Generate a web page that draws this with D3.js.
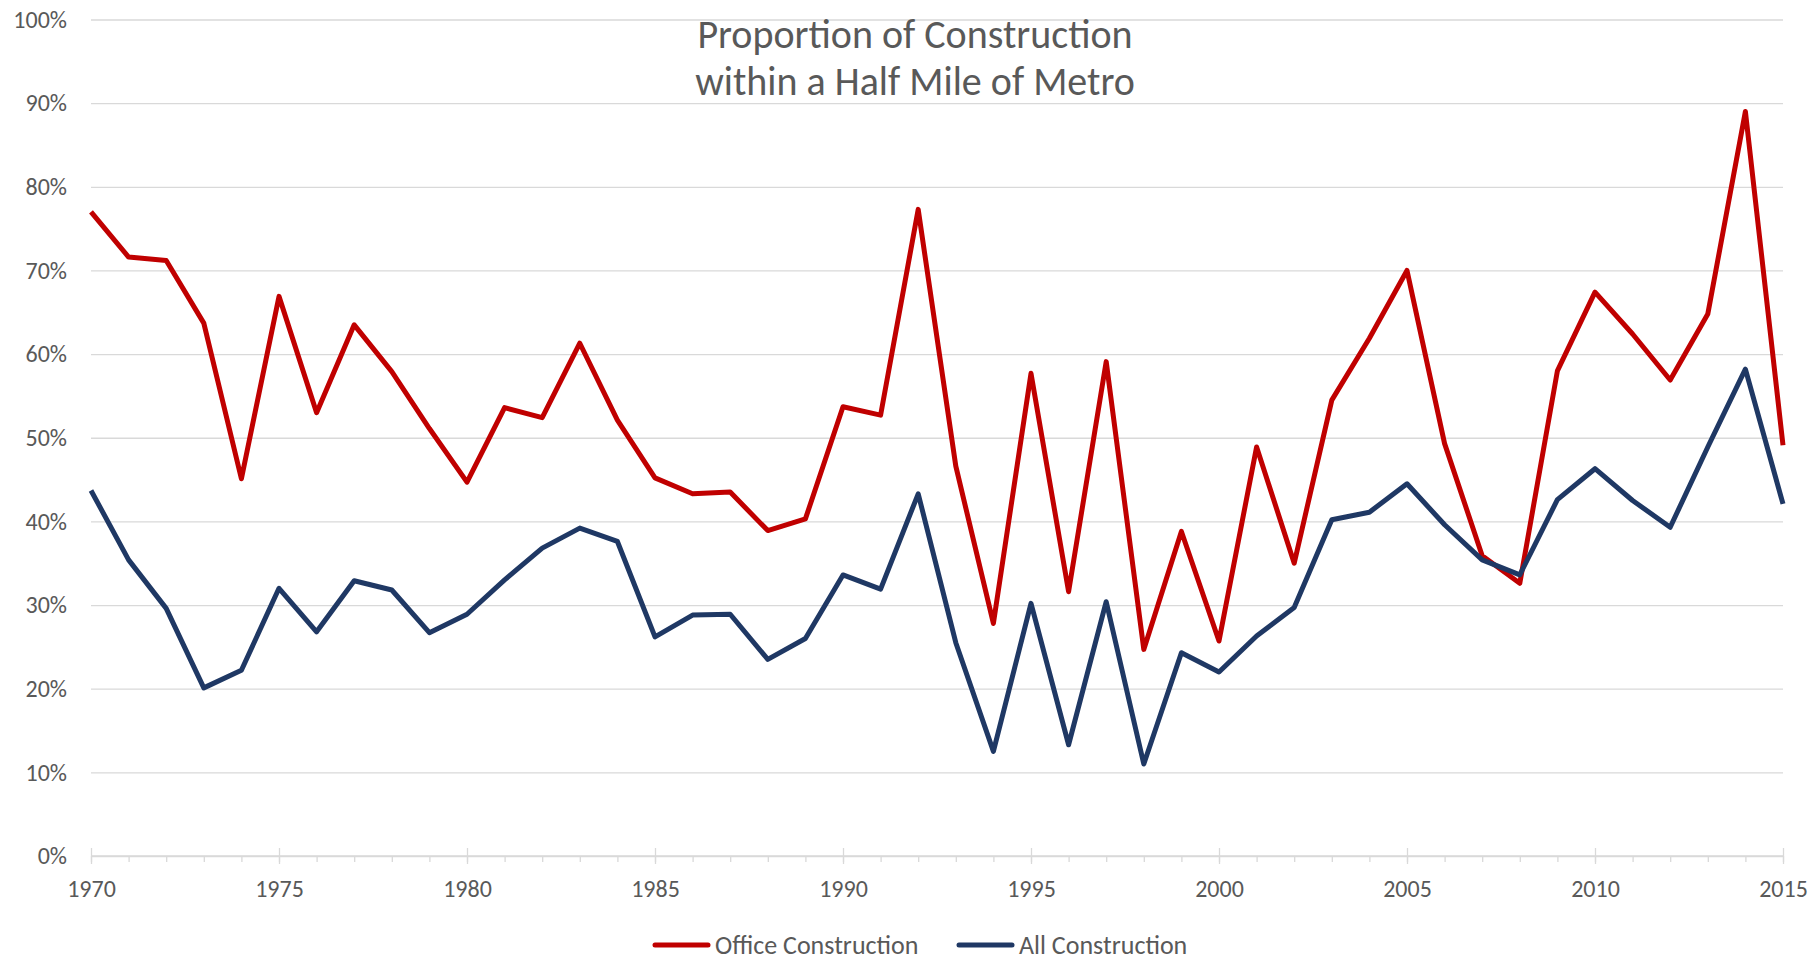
<!DOCTYPE html>
<html>
<head>
<meta charset="utf-8">
<title>Proportion of Construction within a Half Mile of Metro</title>
<script src="https://cdn.jsdelivr.net/npm/d3@7"></script>
<style>
  body { margin: 0; background: #fff; }
  svg { display: block; font-family: Calibri, Carlito, Lato, sans-serif; }
  .axis text { fill: #595959; font-size: 24px; font-family: Calibri, Carlito, Lato, sans-serif; }
  .chart-title { fill: #595959; font-size: 40px; }
  .legend-label { fill: #595959; font-size: 26px; }
</style>
</head>
<body>
<svg id="chart"></svg>
<script>
// Years on the x axis (one point per year)
const years = [
  1970, 1971, 1972, 1973, 1974, 1975, 1976, 1977, 1978, 1979,
  1980, 1981, 1982, 1983, 1984, 1985, 1986, 1987, 1988, 1989,
  1990, 1991, 1992, 1993, 1994, 1995, 1996, 1997, 1998, 1999,
  2000, 2001, 2002, 2003, 2004, 2005, 2006, 2007, 2008, 2009,
  2010, 2011, 2012, 2013, 2014, 2015
];

// Share of office construction within half a mile of Metro (%)
const officeShare = [
  77.0, 71.6, 71.2, 63.7, 45.1, 66.9, 53.0, 63.5, 57.9, 51.1,
  44.7, 53.6, 52.4, 61.3, 52.1, 45.2, 43.3, 43.5, 38.9, 40.3,
  53.7, 52.7, 77.3, 46.6, 27.8, 57.7, 31.6, 59.1, 24.7, 38.8,
  25.7, 48.9, 35.0, 54.5, 61.9, 70.0, 49.3, 35.9, 32.6, 58.0,
  67.4, 62.4, 56.9, 64.8, 89.0, 49.1
];

// Share of all construction within half a mile of Metro (%)
const allShare = [
  43.7, 35.4, 29.6, 20.1, 22.2, 32.0, 26.8, 32.9, 31.8, 26.7,
  28.9, 33.0, 36.8, 39.2, 37.6, 26.2, 28.8, 28.9, 23.5, 26.0,
  33.6, 31.9, 43.3, 25.5, 12.5, 30.2, 13.3, 30.4, 11.0, 24.3,
  22.0, 26.3, 29.7, 40.2, 41.1, 44.5, 39.6, 35.4, 33.6, 42.6,
  46.3, 42.5, 39.3, 48.9, 58.2, 42.1
];

const seriesNames = ["Office Construction", "All Construction"];
const seriesColors = ["#c00000", "#1f3864"];

const yTicks = [0, 10, 20, 30, 40, 50, 60, 70, 80, 90, 100];
const xTicks = [1970, 1975, 1980, 1985, 1990, 1995, 2000, 2005, 2010, 2015];

const titleLines = ["Proportion of Construction", "within a Half Mile of Metro"];

class LineChart {
  constructor(_config, _data) {
    this.config = {
      parentElement: _config.parentElement,
      containerWidth: _config.containerWidth || 1816,
      containerHeight: _config.containerHeight || 966,
      margin: _config.margin || { top: 19.5, right: 33, bottom: 110, left: 91 },
    };
    this.data = _data;
    this.initVis();
  }

  initVis() {
    let vis = this;

    vis.width = vis.config.containerWidth - vis.config.margin.left - vis.config.margin.right;
    vis.height = vis.config.containerHeight - vis.config.margin.top - vis.config.margin.bottom;

    vis.xScale = d3.scaleLinear().domain([1970, 2015]).range([0, vis.width]);
    vis.yScale = d3.scaleLinear().domain([0, 100]).range([vis.height, 0]);

    vis.colorScale = d3.scaleOrdinal().domain(seriesNames).range(seriesColors);

    vis.svg = d3.select(vis.config.parentElement)
      .attr("width", vis.config.containerWidth)
      .attr("height", vis.config.containerHeight);

    vis.chart = vis.svg.append("g")
      .attr("transform", `translate(${vis.config.margin.left},${vis.config.margin.top})`);

    // Horizontal gridlines + y labels
    vis.yAxis = d3.axisLeft(vis.yScale)
      .tickValues(yTicks)
      .tickSize(-vis.width)
      .tickPadding(24)
      .tickFormat(d => d + "%");

    vis.yAxisG = vis.chart.append("g").attr("class", "axis y-axis");

    // Minor ticks, one per year
    vis.xMinorAxis = d3.axisBottom(vis.xScale)
      .tickValues(years)
      .tickSize(6)
      .tickFormat("");

    // Major ticks every five years, with labels
    vis.xAxis = d3.axisBottom(vis.xScale)
      .tickValues(xTicks)
      .tickSize(8)
      .tickPadding(16)
      .tickFormat(d3.format("d"));

    vis.xMinorG = vis.chart.append("g")
      .attr("class", "axis x-minor")
      .attr("transform", `translate(0,${vis.height})`);

    vis.xAxisG = vis.chart.append("g")
      .attr("class", "axis x-axis")
      .attr("transform", `translate(0,${vis.height})`);

    vis.linesG = vis.chart.append("g");

    // Title, two lines
    vis.svg.append("text")
      .attr("class", "chart-title")
      .attr("text-anchor", "middle")
      .attr("x", 915)
      .attr("y", 48)
      .selectAll("tspan")
      .data(titleLines)
      .join("tspan")
      .attr("x", 915)
      .attr("dy", (d, i) => i === 0 ? 0 : 47)
      .text(d => d);

    // Legend
    vis.legend = vis.svg.append("g")
      .attr("transform", `translate(655,945)`);
  }

  updateVis() {
    let vis = this;

    vis.xValue = d => d.year;
    vis.yValue = d => d.value;

    vis.line = d3.line()
      .x(d => vis.xScale(vis.xValue(d)))
      .y(d => vis.yScale(vis.yValue(d)));

    vis.renderVis();
  }

  renderVis() {
    let vis = this;

    vis.yAxisG.call(vis.yAxis)
      .call(g => g.select(".domain").remove())
      .call(g => g.selectAll(".tick line")
        .attr("stroke", "#d9d9d9")
        .attr("stroke-width", 1.3));

    vis.xMinorG.call(vis.xMinorAxis)
      .call(g => g.select(".domain").remove())
      .call(g => g.selectAll(".tick line")
        .attr("stroke", "#d9d9d9")
        .attr("stroke-width", 1.3));

    vis.xAxisG.call(vis.xAxis)
      .call(g => g.select(".domain")
        .attr("stroke", "#d9d9d9")
        .attr("stroke-width", 1.5)
        .attr("d", `M0,0H${vis.width}`))
      .call(g => g.selectAll(".tick line")
        .attr("y1", -8)
        .attr("stroke", "#d9d9d9")
        .attr("stroke-width", 1.3));

    // Series lines, office first so all-construction sits on top
    vis.linesG.selectAll(".series")
      .data(vis.data, d => d.name)
      .join("path")
      .attr("class", "series")
      .attr("fill", "none")
      .attr("stroke", d => vis.colorScale(d.name))
      .attr("stroke-width", 5)
      .attr("stroke-linejoin", "round")
      .attr("d", d => vis.line(d.values));

    // Legend entries
    const legendOffsets = [0, 304];
    const items = vis.legend.selectAll(".legend-item")
      .data(seriesNames)
      .join("g")
      .attr("class", "legend-item")
      .attr("transform", (d, i) => `translate(${legendOffsets[i]},0)`);

    items.append("line")
      .attr("x1", 0)
      .attr("x2", 53)
      .attr("stroke", d => vis.colorScale(d))
      .attr("stroke-width", 5)
      .attr("stroke-linecap", "round");

    items.append("text")
      .attr("class", "legend-label")
      .attr("x", 60)
      .attr("dy", "0.35em")
      .text(d => d);
  }
}

const data = [
  { name: seriesNames[0], values: years.map((y, i) => ({ year: y, value: officeShare[i] })) },
  { name: seriesNames[1], values: years.map((y, i) => ({ year: y, value: allShare[i] })) }
];

const lineChart = new LineChart({ parentElement: "#chart" }, data);
lineChart.updateVis();
</script>
</body>
</html>
